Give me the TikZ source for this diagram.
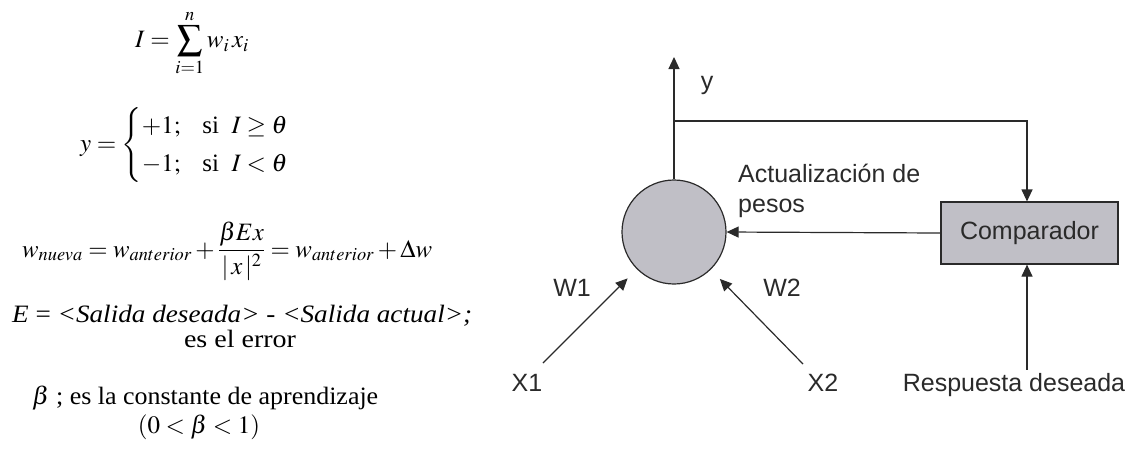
\documentclass[tikz,border=0pt]{standalone}
\usepackage{amsmath}
\usepackage{mathptmx}
\usepackage[no-math]{fontspec}
\setmainfont{Liberation Serif}
\newfontfamily\arialf{Liberation Sans}
\usetikzlibrary{arrows.meta}
\definecolor{nfill}{HTML}{C0BFC6}
\definecolor{ink}{HTML}{2A2A2A}
\begin{document}
\begin{tikzpicture}[x=1pt,y=-1pt,
  lbl/.style={font=\arialf\fontsize{25}{30}\selectfont, inner sep=3pt, text=ink},
  eq/.style={font=\fontsize{25}{30}\selectfont, inner sep=0pt},
  wire/.style={line width=1.2pt, draw=ink},
  arr/.style={wire, -{Triangle[width=11pt,length=12pt]}},
  neuronst/.style={circle, draw=ink, line width=1.2pt, fill=nfill, minimum size=104pt, inner sep=0pt},
  boxst/.style={draw=ink, line width=1.2pt, fill=nfill, minimum width=177pt, minimum height=62pt, inner sep=0pt, font=\arialf\fontsize{25}{30}\selectfont, text=ink}]
\useasboundingbox (0,0) rectangle (1137,451);
% ---- left: formulas ----
\node[eq] (eqI) at (192,43) {$\displaystyle I=\sum_{i=1}^{n} w_{i}\,x_{i}$};
\node[eq, anchor=west] (eqy) at (80,145) {$y=\begin{cases}+1;\ \ \ \text{si}\ \ I\geq\theta\\[2pt] -1;\ \ \ \text{si}\ \ I<\theta\end{cases}$};
\node[eq, anchor=base west] (eqw) at (22,257) {\resizebox{410pt}{\height}{$\displaystyle w_{nueva}=w_{anterior}+\frac{\beta E x}{\lvert\, x\,\rvert^{2}}=w_{anterior}+\Delta w$}};
\node[eq, anchor=base west] (eqE) at (12,322) {\resizebox{460pt}{\height}{\textit{E} = \textit{<Salida deseada>} - \textit{<Salida actual>;}}};
\node[eq, anchor=base] (err) at (240,347) {\resizebox{112pt}{\height}{es el error}};
\node[eq, anchor=base west] (beta) at (32,404) {\resizebox{346pt}{\height}{$\beta$ ; es la constante de aprendizaje}};
\node[eq, anchor=base] (rng) at (199,433) {$(0<\beta<1)$};
% ---- right: perceptron ----
\node[neuronst] (neuron) at (674,232) {};
\node[boxst] (cmp) at (1029.5,233) {Comparador};
\coordinate (ytop) at (674,57);
\coordinate (branch) at (674,121);
\coordinate (corner) at (1027,121);
\node[lbl] (ylab) at (707,85) {y};
\draw[arr] (neuron.north) -- (ytop);
\draw[arr] (branch) -- (corner) -- (corner |- cmp.north);
\draw[arr] (cmp.west) -- (neuron.east);
\node[lbl, anchor=base west, inner sep=0pt] (upd1) at (738,182) {Actualización de};
\node[lbl, anchor=base west, inner sep=0pt] (upd2) at (738,212) {pesos};
\node[lbl, anchor=base] (resp) at (1014,391) {Respuesta deseada};
\draw[arr] (resp.north -| corner) -- (corner |- cmp.south);
\node[lbl] (w1) at (572,288) {W1};
\node[lbl] (w2) at (782,288) {W2};
\node[lbl] (x1) at (527,383) {X1};
\node[lbl] (x2) at (823,383) {X2};
\coordinate (x1s) at (543,363);
\coordinate (x2s) at (803,364);
\draw[arr, shorten >=13pt] (x1s) -- (neuron);
\draw[arr, shorten >=13pt] (x2s) -- (neuron);
\end{tikzpicture}
\end{document}
